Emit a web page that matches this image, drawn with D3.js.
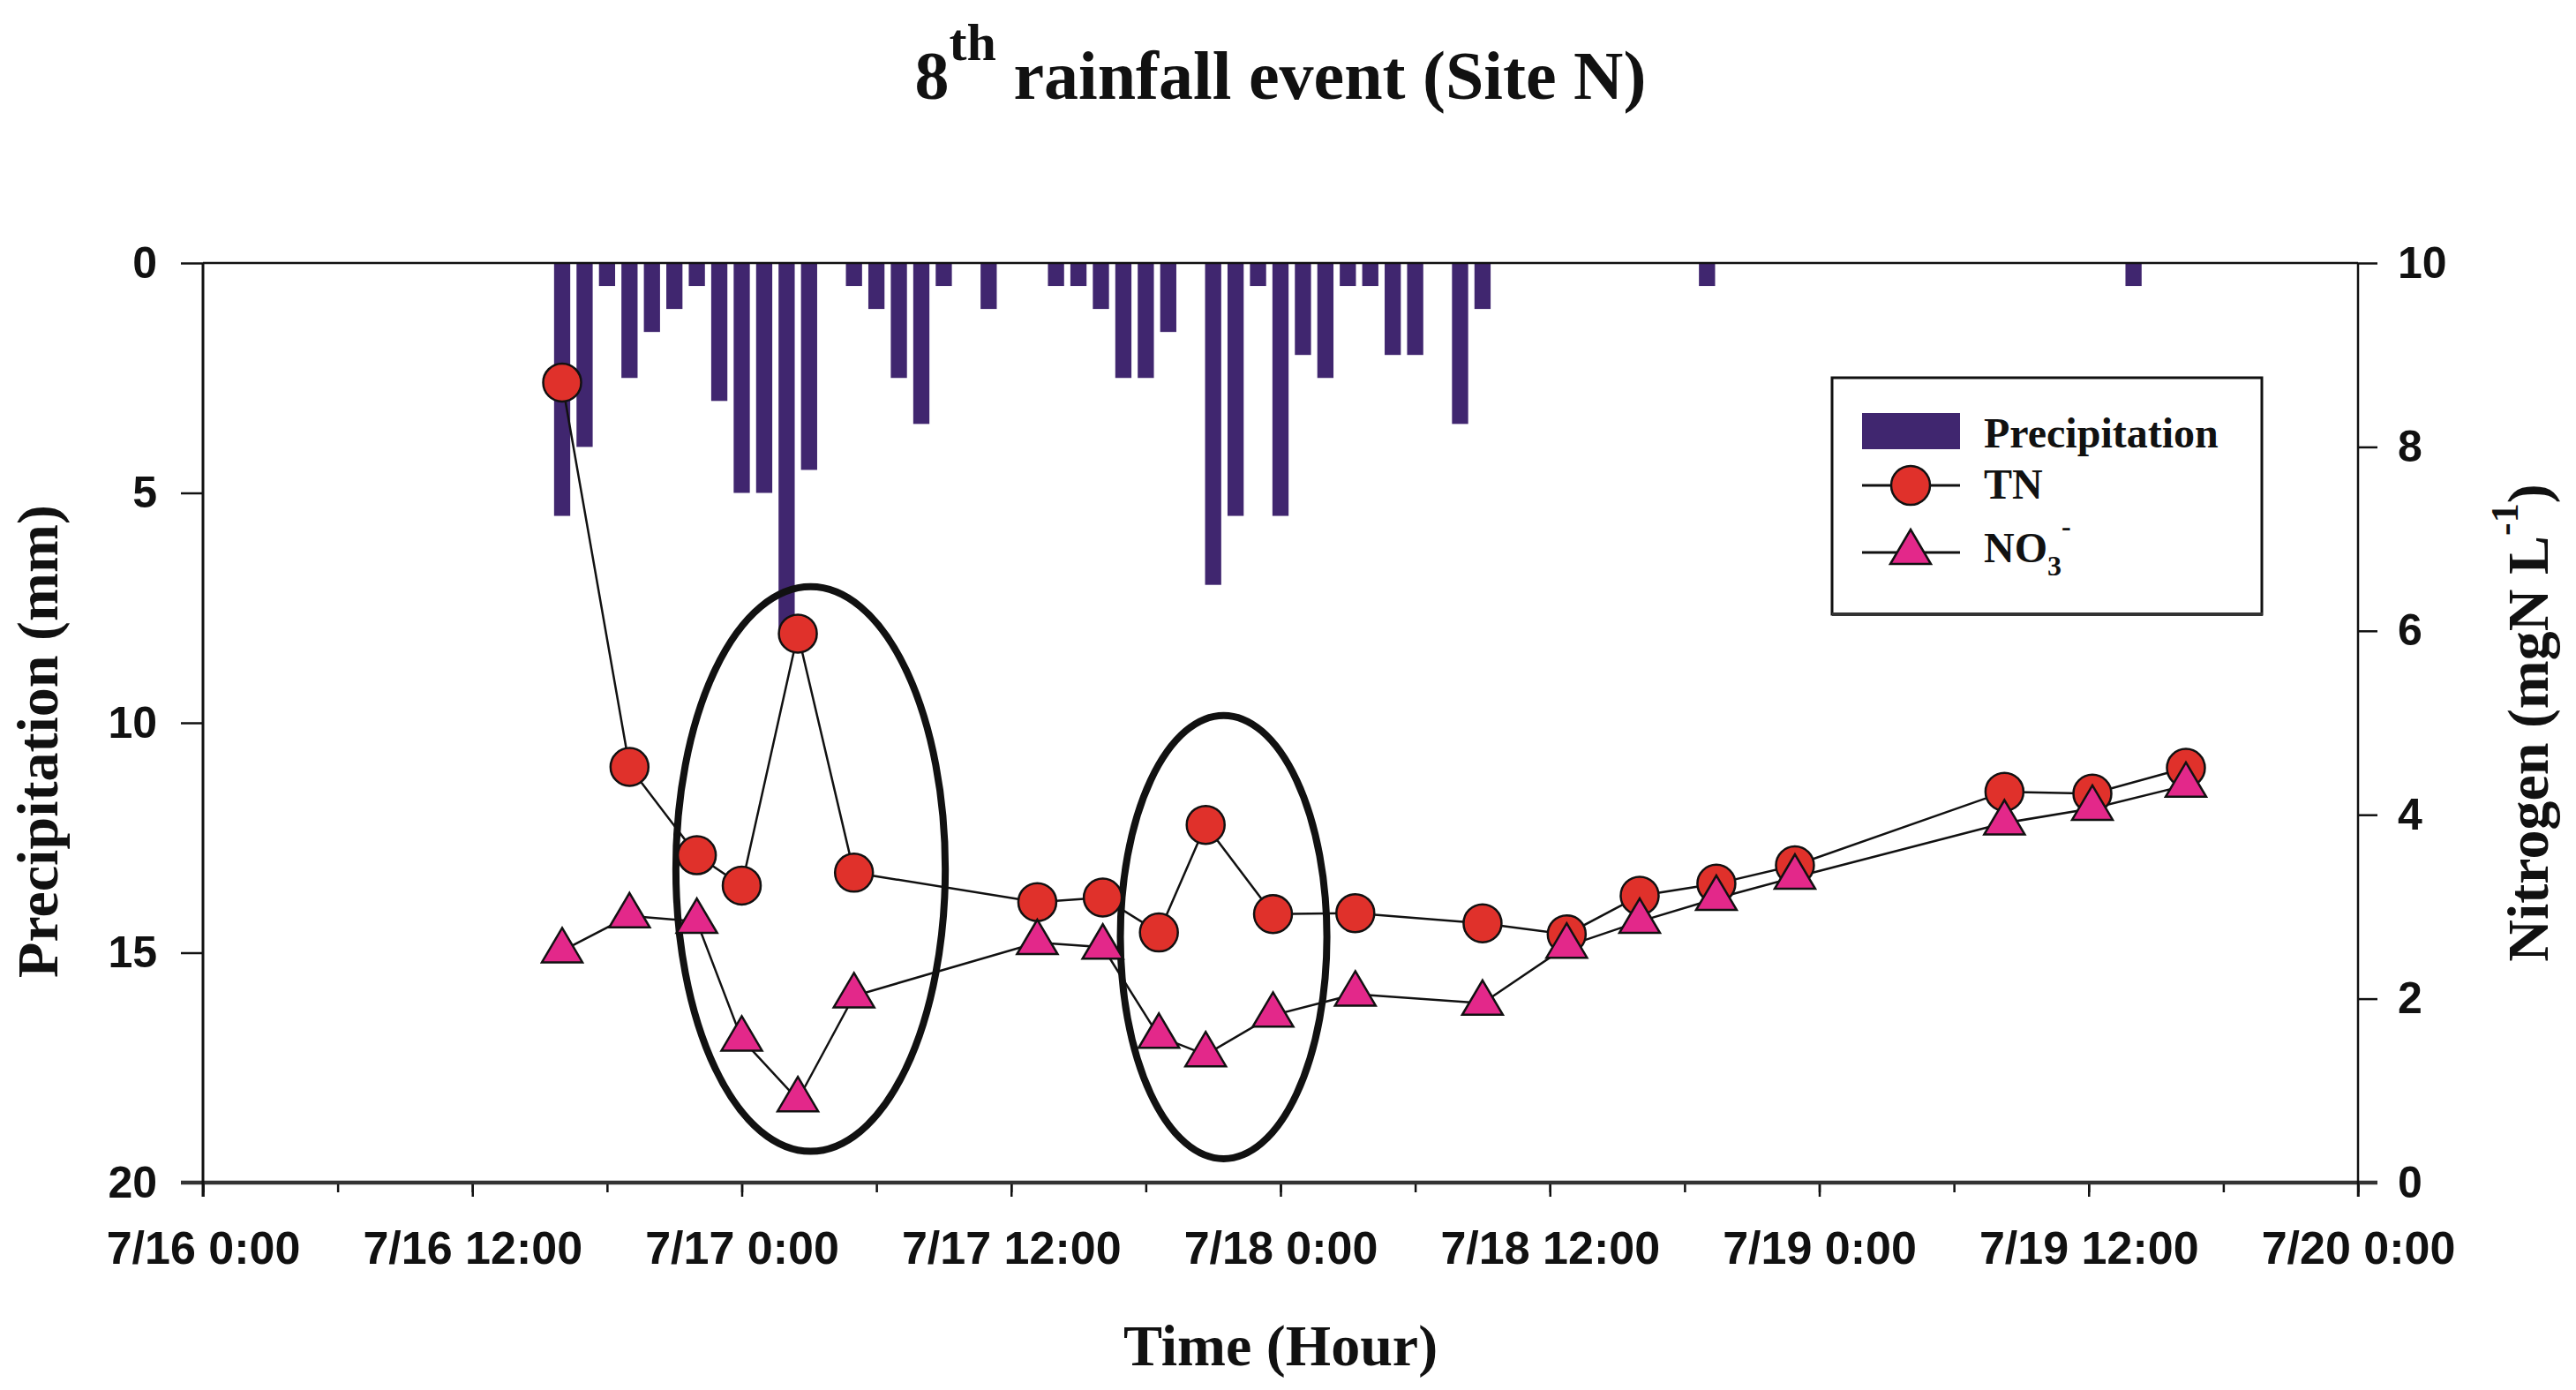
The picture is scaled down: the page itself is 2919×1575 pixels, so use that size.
<!DOCTYPE html>
<html>
<head>
<meta charset="utf-8">
<script src="https://cdn.jsdelivr.net/npm/d3@7"></script>
<style>
  body { margin: 0; background: #fff; }
  .serif { font-family: "Liberation Serif", "Times New Roman", serif; font-weight: bold; fill: #111; }
  .tick text { font-family: "Liberation Sans", Arial, sans-serif; font-weight: bold; fill: #111; }
  .tick line { stroke: #111; stroke-width: 2.5; }
</style>
</head>
<body>
<svg id="chart" width="2919" height="1575"></svg>
<script>
// hourly rainfall (mm)
const rainTimes = ["7/16 16:00","7/16 17:00","7/16 18:00","7/16 19:00","7/16 20:00","7/16 21:00",
  "7/16 22:00","7/16 23:00","7/17 0:00","7/17 1:00","7/17 2:00","7/17 3:00","7/17 5:00","7/17 6:00",
  "7/17 7:00","7/17 8:00","7/17 9:00","7/17 11:00","7/17 14:00","7/17 15:00","7/17 16:00","7/17 17:00",
  "7/17 18:00","7/17 19:00","7/17 21:00","7/17 22:00","7/17 23:00","7/18 0:00","7/18 1:00","7/18 2:00",
  "7/18 3:00","7/18 4:00","7/18 5:00","7/18 6:00","7/18 8:00","7/18 9:00","7/18 19:00","7/19 14:00"];
const rainMm = [5.5,4.0,0.5,2.5,1.5,1.0,0.5,3.0,5.0,5.0,8.0,4.5,0.5,1.0,2.5,3.5,0.5,1.0,0.5,0.5,1.0,2.5,
  2.5,1.5,7.0,5.5,0.5,5.5,2.0,2.5,0.5,0.5,2.0,2.0,3.5,1.0,0.5,0.5];

// water samples (mgN/L)
const sampleTimes = ["7/16 16:00","7/16 19:00","7/16 22:00","7/17 0:00","7/17 2:30","7/17 5:00",
  "7/17 13:10","7/17 16:05","7/17 18:35","7/17 20:40","7/17 23:40","7/18 3:20","7/18 9:00","7/18 12:45",
  "7/18 16:00","7/18 19:25","7/18 22:55","7/19 8:15","7/19 12:10","7/19 16:20"];
const tnValues = [8.70,4.52,3.56,3.23,5.97,3.37,3.05,3.10,2.72,3.89,2.92,2.93,2.82,2.70,3.12,3.25,3.45,4.25,4.23,4.51];
const no3Values = [2.52,2.90,2.84,1.56,0.90,2.03,2.61,2.56,1.59,1.39,1.82,2.05,1.95,2.57,2.84,3.09,3.32,3.91,4.07,4.32];

// circled periods (centre time, centre N, half width in hours, half height in mgN/L)
const circledTimes = ["7/17 3:04","7/17 21:28"];
const circledN = [3.41, 2.67];
const circledHalfHours = [6.0, 4.6];
const circledHalfN = [3.07, 2.41];

const xTickLabels = ["7/16 0:00","7/16 12:00","7/17 0:00","7/17 12:00","7/18 0:00","7/18 12:00","7/19 0:00","7/19 12:00","7/20 0:00"];
const precipTicks = [0,5,10,15,20];
const nitrogenTicks = [0,2,4,6,8,10];

const parse = d3.timeParse("%m/%d %H:%M");
const fmt = d3.timeFormat("%-m/%-d %-H:%M");

const plotL = 230, plotR = 2672, plotT = 298, plotB = 1340;
const barColor = "#40266f", tnColor = "#e0312b", no3Color = "#e3288a";

const svg = d3.select("#chart");
svg.append("rect").attr("width", 2919).attr("height", 1575).attr("fill", "#fff");

const x = d3.scaleTime()
  .domain([parse(xTickLabels[0]), parse(xTickLabels[xTickLabels.length - 1])])
  .range([plotL, plotR]);
const yP = d3.scaleLinear().domain([0, 20]).range([plotT, plotB]);
const yN = d3.scaleLinear().domain([0, 10]).range([plotB, plotT]);

const hourW = x(parse("7/16 1:00")) - x(parse("7/16 0:00"));
const barW = hourW * 0.72;

// precipitation bars hanging from the top
svg.append("g")
  .selectAll("rect")
  .data(rainTimes.map((t, i) => ({ t: parse(t), v: rainMm[i] })))
  .enter()
  .append("rect")
  .attr("x", d => x(d.t) - barW / 2)
  .attr("y", yP(0))
  .attr("width", barW)
  .attr("height", d => yP(d.v) - yP(0))
  .attr("fill", barColor);

// axes
const minorAxis = d3.axisBottom(x).ticks(d3.timeHour.every(6)).tickSize(11).tickFormat("").tickSizeOuter(0);
svg.append("g").attr("transform", `translate(0,${plotB})`).call(minorAxis)
  .call(g => g.select(".domain").remove());

const majorAxis = d3.axisBottom(x)
  .tickValues(xTickLabels.map(parse))
  .tickFormat(fmt)
  .tickSize(16).tickPadding(39).tickSizeOuter(0);
svg.append("g").attr("transform", `translate(0,${plotB})`).call(majorAxis)
  .call(g => g.select(".domain").remove())
  .selectAll("text").attr("font-size", 52);

svg.append("g").attr("transform", `translate(${plotL},0)`)
  .call(d3.axisLeft(yP).tickValues(precipTicks).tickSize(25).tickPadding(27).tickSizeOuter(0))
  .call(g => g.select(".domain").remove())
  .selectAll("text").attr("font-size", 50);

svg.append("g").attr("transform", `translate(${plotR},0)`)
  .call(d3.axisRight(yN).tickValues(nitrogenTicks).tickSize(22).tickPadding(23).tickSizeOuter(0))
  .call(g => g.select(".domain").remove())
  .selectAll("text").attr("font-size", 50);

// frame
svg.append("line").attr("x1", plotL).attr("x2", plotR).attr("y1", plotT).attr("y2", plotT)
  .attr("stroke", "#111").attr("stroke-width", 2.5);
svg.append("line").attr("x1", plotL - 25).attr("x2", plotR + 22).attr("y1", plotB).attr("y2", plotB)
  .attr("stroke", "#333").attr("stroke-width", 4.5);
svg.append("line").attr("x1", plotL).attr("x2", plotL).attr("y1", plotT).attr("y2", plotB + 16)
  .attr("stroke", "#111").attr("stroke-width", 3);
svg.append("line").attr("x1", plotR).attr("x2", plotR).attr("y1", plotT).attr("y2", plotB + 16)
  .attr("stroke", "#111").attr("stroke-width", 2.5);

// circled periods
svg.append("g")
  .selectAll("ellipse")
  .data(circledTimes.map((t, i) => ({ t: parse(t), n: circledN[i], hh: circledHalfHours[i], hn: circledHalfN[i] })))
  .enter()
  .append("ellipse")
  .attr("cx", d => x(d.t))
  .attr("cy", d => yN(d.n))
  .attr("rx", d => x(d3.timeMinute.offset(d.t, d.hh * 60)) - x(d.t))
  .attr("ry", d => yN(d.n - d.hn) - yN(d.n))
  .attr("fill", "none")
  .attr("stroke", "#111")
  .attr("stroke-width", 8);

// nitrogen series
const tn = sampleTimes.map((t, i) => ({ t: parse(t), v: tnValues[i] }));
const no3 = sampleTimes.map((t, i) => ({ t: parse(t), v: no3Values[i] }));
const line = d3.line().x(d => x(d.t)).y(d => yN(d.v));

svg.append("path").datum(tn).attr("d", line)
  .attr("fill", "none").attr("stroke", "#111").attr("stroke-width", 2.5);
svg.append("path").datum(no3).attr("d", line)
  .attr("fill", "none").attr("stroke", "#111").attr("stroke-width", 2.5);

const triangle = "M0,-26L23,13L-23,13Z";

svg.append("g")
  .selectAll("circle")
  .data(tn)
  .enter()
  .append("circle")
  .attr("cx", d => x(d.t))
  .attr("cy", d => yN(d.v))
  .attr("r", 21.5)
  .attr("fill", tnColor)
  .attr("stroke", "#111")
  .attr("stroke-width", 2.5);

svg.append("g")
  .selectAll("path")
  .data(no3)
  .enter()
  .append("path")
  .attr("d", triangle)
  .attr("transform", d => `translate(${x(d.t)},${yN(d.v)})`)
  .attr("fill", no3Color)
  .attr("stroke", "#111")
  .attr("stroke-width", 2.5);

// titles
const title = svg.append("text").attr("class", "serif")
  .attr("x", (plotL + plotR) / 2).attr("y", 112)
  .attr("text-anchor", "middle").attr("font-size", 78);
title.append("tspan").text("8");
title.append("tspan").attr("font-size", 60).attr("dy", -44).text("th");
title.append("tspan").attr("dy", 44).text(" rainfall event (Site N)");

svg.append("text").attr("class", "serif")
  .attr("x", (plotL + plotR) / 2).attr("y", 1547)
  .attr("text-anchor", "middle").attr("font-size", 66)
  .text("Time (Hour)");

svg.append("text").attr("class", "serif")
  .attr("transform", "translate(65,840) rotate(-90)")
  .attr("text-anchor", "middle").attr("font-size", 66)
  .text("Precipitation (mm)");

const nTitle = svg.append("text").attr("class", "serif")
  .attr("transform", "translate(2887,819) rotate(-90)")
  .attr("text-anchor", "middle").attr("font-size", 66);
nTitle.append("tspan").text("Nitrogen (mgN L");
nTitle.append("tspan").attr("font-size", 44).attr("dy", -34).text("-1");
nTitle.append("tspan").attr("dy", 34).text(")");

// legend
const lg = svg.append("g");
lg.append("rect").attr("x", 2076).attr("y", 428).attr("width", 487).attr("height", 268)
  .attr("fill", "#fff").attr("stroke", "#111").attr("stroke-width", 3);
lg.append("line").attr("x1", 2076).attr("x2", 2564).attr("y1", 696).attr("y2", 696)
  .attr("stroke", "#333").attr("stroke-width", 4);
lg.append("rect").attr("x", 2110).attr("y", 468).attr("width", 111).attr("height", 41).attr("fill", barColor);
lg.append("line").attr("x1", 2110).attr("x2", 2221).attr("y1", 550).attr("y2", 550)
  .attr("stroke", "#111").attr("stroke-width", 3);
lg.append("circle").attr("cx", 2165).attr("cy", 550).attr("r", 22)
  .attr("fill", tnColor).attr("stroke", "#111").attr("stroke-width", 2.5);
lg.append("line").attr("x1", 2110).attr("x2", 2221).attr("y1", 626).attr("y2", 626)
  .attr("stroke", "#111").attr("stroke-width", 3);
lg.append("path").attr("d", triangle).attr("transform", "translate(2165,626)")
  .attr("fill", no3Color).attr("stroke", "#111").attr("stroke-width", 2.5);

lg.append("text").attr("class", "serif").attr("x", 2248).attr("y", 507).attr("font-size", 48).text("Precipitation");
lg.append("text").attr("class", "serif").attr("x", 2248).attr("y", 565).attr("font-size", 48).text("TN");
const no3Label = lg.append("text").attr("class", "serif").attr("x", 2248).attr("y", 637).attr("font-size", 48);
no3Label.append("tspan").text("NO");
no3Label.append("tspan").attr("font-size", 32).attr("dy", 15).text("3");
no3Label.append("tspan").attr("font-size", 32).attr("dy", -45).text("-");
</script>
</body>
</html>
